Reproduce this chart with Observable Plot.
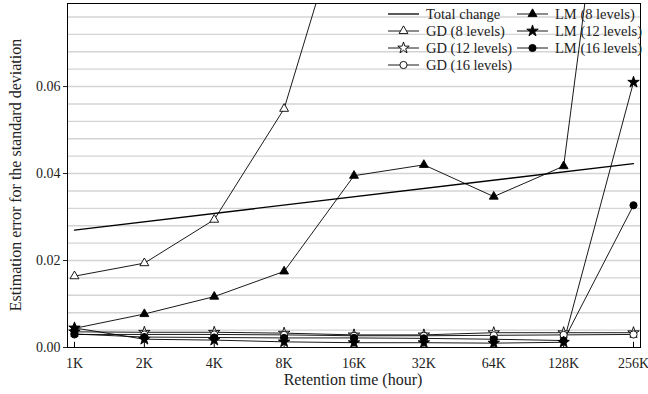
<!DOCTYPE html>
<html><head><meta charset="utf-8">
<script src="https://cdn.jsdelivr.net/npm/d3@7"></script>
<script src="https://cdn.jsdelivr.net/npm/@observablehq/plot@0.6"></script>
<style>
body{margin:0;background:#fff}
</style>
</head><body><div id="chart"></div>
<script>
// x positions (thousands of hours) and tick labels
const hours = [1, 2, 4, 8, 16, 32, 64, 128, 256];
const xLabels = ["1K", "2K", "4K", "8K", "16K", "32K", "64K", "128K", "256K"];
const yTicks = [0, 0.02, 0.04, 0.06];

// Total change (straight line, no markers)
const totalHours = [1, 256];
const totalChange = [0.0270, 0.0423];

// series values (one per hour; GD8 leaves the chart after 8K)
const gd8 = [0.0164, 0.0194, 0.0294, 0.0549, 0.108];
const gd12 = [0.0036, 0.0035, 0.0035, 0.0033, 0.0029, 0.0029, 0.0034, 0.0034, 0.0034];
const gd16 = [0.0030, 0.0030, 0.0030, 0.0029, 0.0027, 0.0027, 0.0028, 0.0029, 0.0030];
const lm8 = [0.0044, 0.0077, 0.0117, 0.0175, 0.0395, 0.0420, 0.0347, 0.0417, 0.165];
const lm12 = [0.0045, 0.0019, 0.0017, 0.0013, 0.0011, 0.0011, 0.0010, 0.0012, 0.0610];
const lm16 = [0.0031, 0.0024, 0.0023, 0.0022, 0.0022, 0.0021, 0.0019, 0.0016, 0.0327];

const seriesDefs = [
  {name: "GD (8 levels)", values: gd8, symbol: "triangle", fill: "white", r: 3.3},
  {name: "GD (12 levels)", values: gd12, symbol: "star", fill: "white", r: 3.6},
  {name: "GD (16 levels)", values: gd16, symbol: "circle", fill: "white", r: 3.6},
  {name: "LM (8 levels)", values: lm8, symbol: "triangle", fill: "black", r: 3.3},
  {name: "LM (12 levels)", values: lm12, symbol: "star", fill: "black", r: 3.6},
  {name: "LM (16 levels)", values: lm16, symbol: "circle", fill: "black", r: 3.6}
];
const rows = s => s.values.map((v, i) => ({x: hours[i], y: v}));
const totalRows = totalHours.map((h, i) => ({x: h, y: totalChange[i]}));
const yMax = 0.0791;
const grid = d3.range(0.004, yMax, 0.004);
const FONT = "Liberation Serif";

const marks = [
  Plot.ruleY(grid, {stroke: "#d4d4d4", strokeWidth: 1.4}),
  Plot.line(totalRows, {x: "x", y: "y", stroke: "black", strokeWidth: 1.3, clip: true})
];
for (const s of seriesDefs) {
  marks.push(Plot.line(rows(s), {x: "x", y: "y", stroke: "black", strokeWidth: 0.9, clip: true}));
}
for (const s of seriesDefs) {
  marks.push(Plot.dot(rows(s), {x: "x", y: "y", symbol: s.symbol, r: s.r, fill: s.fill, stroke: "black", strokeWidth: 0.9, clip: true}));
}
marks.push(
  Plot.axisY({ticks: yTicks, tickFormat: d3.format(".2f"), tickSize: 4, tickPadding: 3, fontSize: 14, label: null}),
  Plot.axisX({ticks: hours, tickFormat: d => xLabels[hours.indexOf(d)], tickSize: 0, tickPadding: 11, fontSize: 14, label: null}),
  Plot.ruleX(hours, {x: d => d, y1: 0, y2: 0.0012, stroke: "black"}),
  Plot.frame({stroke: "black", strokeWidth: 1})
);

const chart = Plot.plot({
  width: 648, height: 394,
  marginLeft: 67, marginRight: 8, marginTop: 3, marginBottom: 47,
  x: {type: "log", base: 2, domain: [Math.pow(2, -0.1), Math.pow(2, 8.1)]},
  y: {domain: [0, yMax]},
  style: {fontSize: "14px", color: "#222", background: "white"},
  marks
});

// axis titles and legend
const svg = d3.select(chart);
svg.append("text").attr("x", 353).attr("y", 385).attr("text-anchor", "middle")
  .attr("font-size", 16).attr("fill", "#222").text("Retention time (hour)");
svg.append("text").attr("transform", "translate(21,175) rotate(-90)").attr("text-anchor", "middle")
  .attr("font-size", 16).attr("fill", "#222").text("Estimation error for the standard deviation");

const legendItems = [
  {name: "Total change", s: null, col: 0, row: 0},
  {name: seriesDefs[0].name, s: seriesDefs[0], col: 0, row: 1},
  {name: seriesDefs[1].name, s: seriesDefs[1], col: 0, row: 2},
  {name: seriesDefs[2].name, s: seriesDefs[2], col: 0, row: 3},
  {name: seriesDefs[3].name, s: seriesDefs[3], col: 1, row: 0},
  {name: seriesDefs[4].name, s: seriesDefs[4], col: 1, row: 1},
  {name: seriesDefs[5].name, s: seriesDefs[5], col: 1, row: 2}
];
const symMap = {triangle: d3.symbolTriangle, star: d3.symbolStar, circle: d3.symbolCircle};
const colX = [388, 517];
const lg = svg.append("g");
for (const it of legendItems) {
  const x0 = colX[it.col], y0 = 14 + it.row * 17;
  lg.append("line").attr("x1", x0).attr("x2", x0 + 31).attr("y1", y0).attr("y2", y0)
    .attr("stroke", "black").attr("stroke-width", it.s ? 0.9 : 1.3);
  if (it.s) {
    lg.append("path").attr("transform", `translate(${x0 + 15.5},${y0})`)
      .attr("d", d3.symbol(symMap[it.s.symbol], Math.PI * it.s.r * it.s.r)())
      .attr("fill", it.s.fill).attr("stroke", "black").attr("stroke-width", 0.9);
  }
  lg.append("text").attr("x", x0 + 38).attr("y", y0 + 4.5).attr("font-size", 14.5)
    .attr("text-anchor", "start").attr("fill", "#222").text(it.name);
}
svg.style("font-family", FONT);
svg.selectAll("text").attr("font-family", FONT).style("font-family", FONT);
document.getElementById("chart").appendChild(chart);
</script>
</body></html>
